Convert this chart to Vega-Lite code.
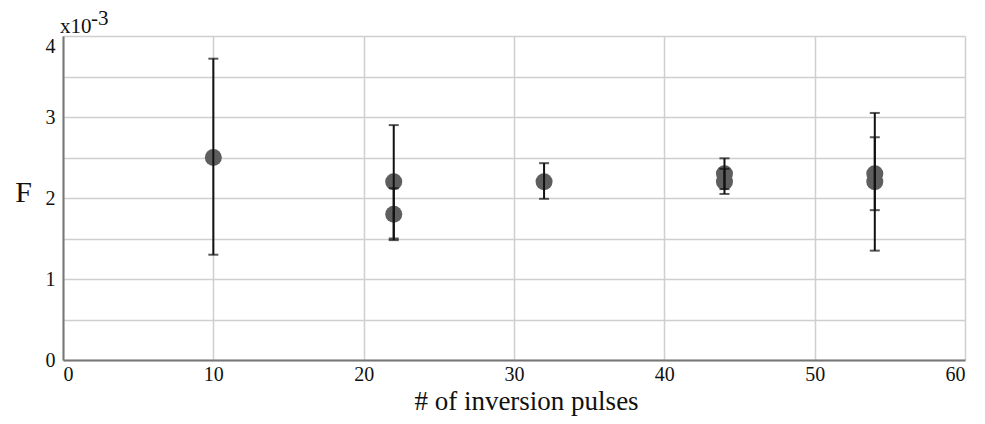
{
  "$schema": "https://vega.github.io/schema/vega-lite/v6.json",
  "autosize": "none",
  "padding": {"left": 63, "top": 36, "right": 20, "bottom": 64},
  "width": 902,
  "height": 324,
  "background": "white",
  "config": {
    "font": "Liberation Serif",
    "view": {"stroke": null}
  },
  "datasets": {
    "points": [
      {"pulses": 10, "F": 2.5, "lo": 1.3, "hi": 3.72},
      {"pulses": 22, "F": 2.2, "lo": 1.5, "hi": 2.9},
      {"pulses": 22, "F": 1.8, "lo": 1.48, "hi": 2.12},
      {"pulses": 32, "F": 2.2, "lo": 1.99, "hi": 2.43},
      {"pulses": 44, "F": 2.3, "lo": 2.11, "hi": 2.49},
      {"pulses": 44, "F": 2.2, "lo": 2.05, "hi": 2.36},
      {"pulses": 54, "F": 2.3, "lo": 1.85, "hi": 2.75},
      {"pulses": 54, "F": 2.2, "lo": 1.35, "hi": 3.05}
    ]
  },
  "layer": [
    {
      "data": {"name": "points"},
      "mark": {"type": "point", "filled": true, "color": "#5e5e5e", "opacity": 1, "size": 290},
      "encoding": {
        "x": {
          "field": "pulses", "type": "quantitative",
          "scale": {"domain": [0, 60], "nice": false},
          "axis": {
            "values": [0, 10, 20, 30, 40, 50, 60],
            "title": "# of inversion pulses",
            "titleFontSize": 27, "titleFontWeight": "normal", "titleColor": "#111", "titlePadding": 4,
            "titleX": 463, "titleAlign": "center",
            "labelFontSize": 20, "labelColor": "#111", "labelPadding": 4,
            "ticks": false,
            "domainColor": "#777", "domainWidth": 2,
            "gridColor": "#cfcfcf", "gridWidth": 1.5
          }
        },
        "y": {
          "field": "F", "type": "quantitative",
          "scale": {"domain": [0, 4], "nice": false},
          "axis": {
            "values": [0, 0.5, 1, 1.5, 2, 2.5, 3, 3.5, 4],
            "labelExpr": "datum.value % 1 === 0 ? format(datum.value, 'd') : ''",
            "labelBaseline": {"condition": {"test": "datum.value === 4", "value": "top"}, "value": "middle"},
            "title": "F",
            "titleAngle": 0, "titleFontSize": 30, "titleFontWeight": "normal", "titleColor": "#111",
            "titleAlign": "center", "titleBaseline": "alphabetic", "titleX": -40, "titleY": 165,
            "labelFontSize": 20, "labelColor": "#111", "labelPadding": 8,
            "ticks": false,
            "domainColor": "#777", "domainWidth": 2,
            "gridColor": "#cfcfcf", "gridWidth": 1.5
          }
        }
      }
    },
    {
      "data": {"name": "points"},
      "mark": {"type": "rule", "color": "#111", "strokeWidth": 2},
      "encoding": {"x": {"field": "pulses", "type": "quantitative"}, "y": {"field": "lo", "type": "quantitative"}, "y2": {"field": "hi"}}
    },
    {
      "data": {"name": "points"},
      "mark": {"type": "tick", "orient": "horizontal", "color": "#111", "size": 10, "thickness": 2},
      "encoding": {"x": {"field": "pulses", "type": "quantitative"}, "y": {"field": "lo", "type": "quantitative"}}
    },
    {
      "data": {"name": "points"},
      "mark": {"type": "tick", "orient": "horizontal", "color": "#111", "size": 10, "thickness": 2},
      "encoding": {"x": {"field": "pulses", "type": "quantitative"}, "y": {"field": "hi", "type": "quantitative"}}
    },
    {
      "data": {"values": [{"label": "x10"}]},
      "mark": {"type": "text", "font": "Liberation Serif", "fontSize": 21, "fontWeight": "normal", "fill": "#111", "align": "left", "baseline": "alphabetic", "dx": -3, "dy": -3},
      "encoding": {"text": {"field": "label"}, "x": {"datum": 0}, "y": {"datum": 4}}
    },
    {
      "data": {"values": [{"label": "-3"}]},
      "mark": {"type": "text", "font": "Liberation Serif", "fontSize": 21, "fontWeight": "normal", "fill": "#111", "align": "left", "baseline": "alphabetic", "dx": 28, "dy": -11},
      "encoding": {"text": {"field": "label"}, "x": {"datum": 0}, "y": {"datum": 4}}
    }
  ]
}
